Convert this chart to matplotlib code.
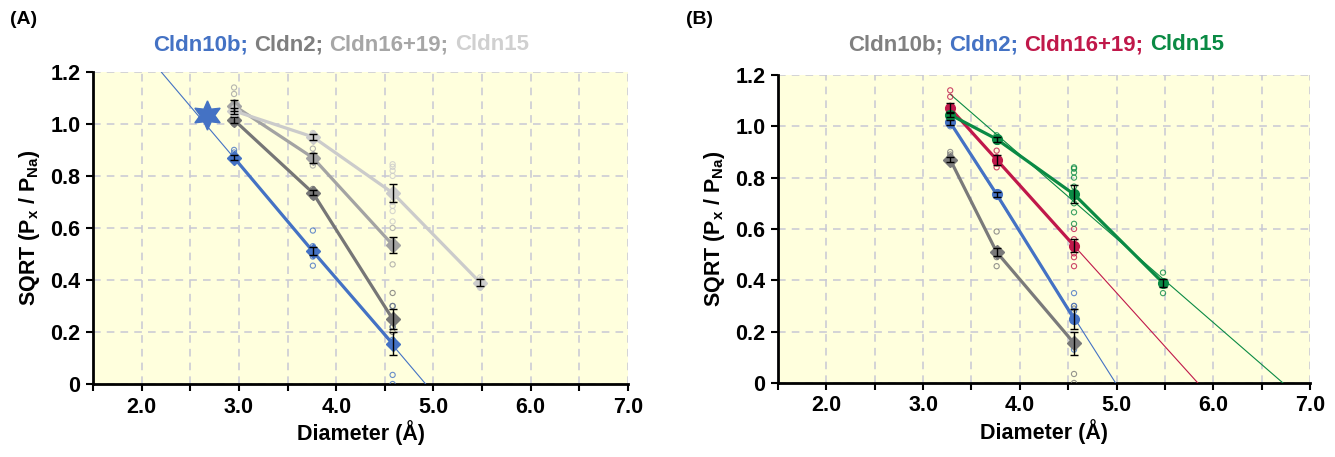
import numpy as np
import matplotlib
matplotlib.use("Agg")
import matplotlib.pyplot as plt

plt.rcParams['font.family'] = ['Liberation Sans', 'DejaVu Sans']
plt.rcParams['font.weight'] = 'bold'
plt.rcParams['mathtext.fontset'] = 'custom'
plt.rcParams['mathtext.rm'] = 'Liberation Sans:bold'
plt.rcParams['mathtext.bf'] = 'Liberation Sans:bold'
plt.rcParams['mathtext.default'] = 'bf'

# ---- panel A data ----
xA = [2.95, 3.76, 4.58, 5.48]
a_names = ['Cldn10b', 'Cldn2', 'Cldn16+19', 'Cldn15']
a_colors = ['#4472C4', '#767676', '#A3A3A3', '#CBCBCB']
a_means = [[0.87, 0.51, 0.155],
           [1.015, 0.735, 0.25],
           [1.07, 0.87, 0.535],
           [1.05, 0.95, 0.735, 0.39]]
a_errs = [[0.01, 0.015, 0.045],
          [0.01, 0.01, 0.04],
          [0.02, 0.02, 0.03],
          [0.01, 0.01, 0.035, 0.012]]
a_indiv = [[[0.90, 0.89, 0.86], [0.59, 0.53, 0.52, 0.49, 0.455], [0.30, 0.22, 0.17, 0.035, 0.0]],
           [[1.03, 1.01, 1.00], [0.75, 0.73, 0.72], [0.35, 0.30, 0.22, 0.20]],
           [[1.14, 1.115, 1.08, 1.06], [0.905, 0.88, 0.86, 0.84], [0.60, 0.55, 0.52, 0.46]],
           [[1.07, 1.05, 1.04], [0.965, 0.955, 0.94],
            [0.845, 0.835, 0.82, 0.80, 0.70, 0.665, 0.625, 0.685], [0.41, 0.39, 0.37]]]
a_markers = ['D', 'D', 'D', 'D']
a_fits = [([2.2, 4.92], [1.2, 0.0], '#4472C4')]
star_x, star_y = 2.67, 1.035

# ---- panel B data ----
xB = [3.28, 3.76, 4.56, 5.48]
b_names = ['Cldn10b', 'Cldn2', 'Cldn16+19', 'Cldn15']
b_colors = ['#7A7A7A', '#4472C4', '#C0184A', '#0A8A44']
b_means = [[0.87, 0.51, 0.155],
           [1.015, 0.735, 0.25],
           [1.07, 0.87, 0.535],
           [1.045, 0.95, 0.735, 0.39]]
b_errs = [[0.01, 0.015, 0.045],
          [0.01, 0.01, 0.04],
          [0.02, 0.02, 0.025],
          [0.01, 0.01, 0.035, 0.015]]
b_indiv = [[[0.90, 0.89, 0.88], [0.59, 0.52, 0.50, 0.49, 0.455], [0.30, 0.29, 0.035, 0.0]],
           [[1.02, 1.01, 1.00], [0.74, 0.73], [0.35, 0.30, 0.28, 0.13]],
           [[1.14, 1.115, 1.08, 1.06], [0.905, 0.88, 0.855, 0.84], [0.60, 0.56, 0.505, 0.49, 0.455]],
           [[1.06, 1.04, 1.03], [0.965, 0.955, 0.94],
            [0.84, 0.835, 0.82, 0.80, 0.765, 0.70, 0.665, 0.62], [0.43, 0.39, 0.35]]]
b_markers = ['D', 'o', 'o', 'o']
b_fits = [([3.28, 4.99], [1.015, 0.0], '#4472C4'),
          ([3.28, 5.84], [1.07, 0.0], '#C0184A'),
          ([3.28, 6.72], [1.125, 0.0], '#0A8A44')]

FS = 15.5

fig = plt.figure(figsize=(13.35, 4.57), dpi=100)
axA = fig.add_axes([0.0697, 0.1597, 0.4007, 0.683])
axB = fig.add_axes([0.5828, 0.162, 0.3985, 0.674])


def draw_panel(ax, xs, names, colors, means, errs, indiv, markers, fits):
    ax.set_facecolor('#FFFFDD')
    # thin fit lines
    for fx, fy, fc in fits:
        ax.plot(fx, fy, color=fc, lw=0.8, zorder=3)
    for i in range(len(names)):
        xi = xs[:len(means[i])]
        # single measurements
        for xv, pts in zip(xi, indiv[i]):
            ax.scatter([xv] * len(pts), pts, s=14, facecolors='none',
                       edgecolors=colors[i], linewidths=0.8, zorder=4, alpha=0.8)
        ax.plot(xi, means[i], color=colors[i], lw=2.3, marker=markers[i],
                markersize=7, zorder=5)
        ax.errorbar(xi, means[i], yerr=errs[i], fmt='none', ecolor='black',
                    elinewidth=1, capsize=3, capthick=1, zorder=6)
    ax.set_xlim(1.5, 7.0)
    ax.set_ylim(0, 1.2)
    ax.set_xticks([1.5, 2, 2.5, 3, 3.5, 4, 4.5, 5, 5.5, 6, 6.5, 7])
    ax.set_xticklabels(['', '2.0', '', '3.0', '', '4.0', '', '5.0', '', '6.0', '', '7.0'])
    ax.set_yticks([0, 0.2, 0.4, 0.6, 0.8, 1.0, 1.2])
    ax.set_yticklabels(['0', '0.2', '0.4', '0.6', '0.8', '1.0', '1.2'])
    ax.grid(True, color='#C8C8D4', linestyle=(0, (5, 4)), lw=1.1)
    ax.set_axisbelow(True)
    for s in ['top', 'right']:
        ax.spines[s].set_visible(False)
    for s in ['left', 'bottom']:
        ax.spines[s].set_linewidth(2)
    ax.tick_params(axis='both', direction='out', length=5, width=1.5,
                   labelsize=FS, pad=4)
    ax.set_xlabel('Diameter (Å)', fontsize=FS, fontweight='bold', labelpad=2)
    ax.set_ylabel('SQRT (P$_{x}$ / P$_{Na}$)', fontsize=FS, fontweight='bold', labelpad=6)


draw_panel(axA, xA, a_names, a_colors, a_means, a_errs, a_indiv, a_markers, a_fits)
axA.plot([star_x], [star_y], marker=(6, 1, 0), color='#4472C4', markersize=21, zorder=7)
draw_panel(axB, xB, b_names, b_colors, b_means, b_errs, b_indiv, b_markers, b_fits)

fig.text(10 / 1335, 1 - 20 / 457, '(A)', fontsize=14, fontweight='bold', va='center')
fig.text(686 / 1335, 1 - 20 / 457, '(B)', fontsize=14, fontweight='bold', va='center')

fig.canvas.draw()
r = fig.canvas.get_renderer()


def color_title(names, colors, cx, cy):
    # multi-coloured title built from separate text pieces
    parts = [n + ';' for n in names[:-1]] + [names[-1]]
    t1 = fig.text(0, 0, 'xx', fontsize=16, fontweight='bold')
    t2 = fig.text(0, 0, 'x x', fontsize=16, fontweight='bold')
    gap = t2.get_window_extent(r).width - t1.get_window_extent(r).width
    t1.remove()
    t2.remove()
    texts = [fig.text(0, 0, p, color=c, fontsize=16, fontweight='bold', va='center')
             for p, c in zip(parts, colors)]
    widths = [t.get_window_extent(r).width for t in texts]
    total = sum(widths) + gap * (len(texts) - 1)
    x = cx - total / 2
    for t, w in zip(texts, widths):
        t.set_position((x / 1335, 1 - cy / 457))
        x += w + gap


color_title(a_names, ['#4472C4', '#7F7F7F', '#A6A6A6', '#D0D0D0'], 341, 45)
color_title(b_names, ['#808080', '#4472C4', '#C0184A', '#0A8A44'], 1036, 45)

fig.savefig('out.png', dpi=100)
